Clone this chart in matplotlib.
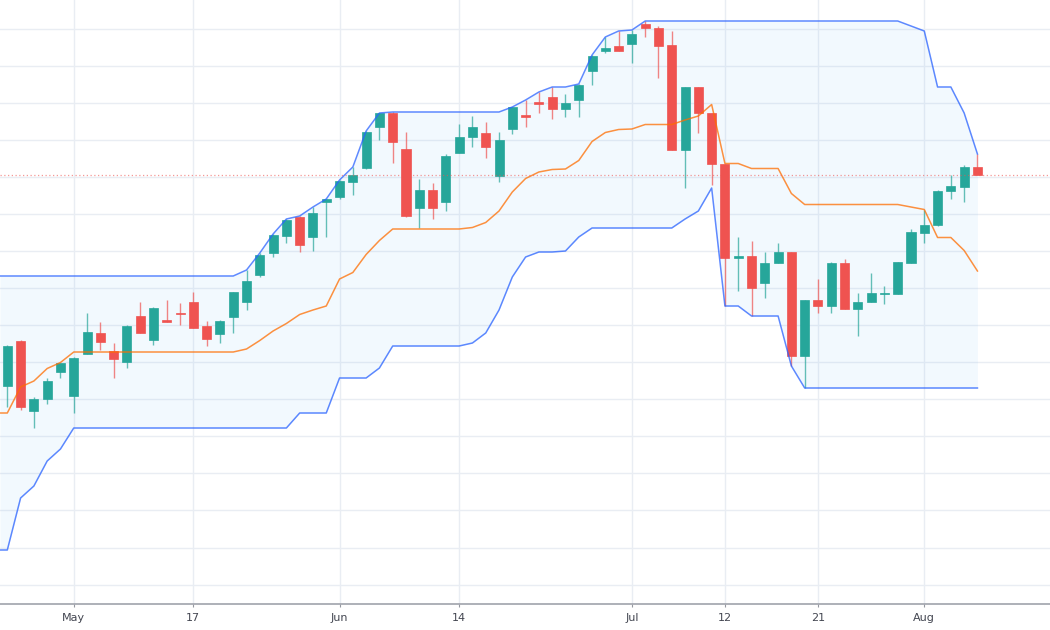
import numpy as np
import pandas as pd
import matplotlib
matplotlib.use("Agg")
import matplotlib.pyplot as plt

# daily OHLC, one entry per candle
opens = [121.4, 125.9, 118.9, 120.1, 122.8, 120.4, 124.6, 126.7, 124.9, 123.8,
         128.4, 126.0, 128.0, 128.7, 129.8, 127.4, 126.6, 128.3, 129.8, 132.5,
         134.7, 136.4, 138.3, 136.3, 139.8, 140.3, 141.8, 143.2, 147.3, 148.7,
         145.1, 139.2, 141.0, 139.8, 144.7, 146.3, 146.7, 142.4, 147.1, 148.5,
         149.8, 150.3, 149.1, 150.0, 152.9, 154.9, 155.4, 155.6, 157.6, 157.2,
         155.5, 145.0, 151.3, 148.7, 143.6, 134.2, 134.4, 131.7, 133.7, 134.8,
         124.4, 130.0, 129.4, 133.7, 129.1, 129.8, 130.6, 130.6, 133.7, 136.7,
         137.5, 140.9, 141.3, 143.3]
highs = [125.5, 126.0, 120.3, 122.2, 123.7, 124.3, 128.7, 127.8, 125.7, 127.5,
         129.8, 129.3, 130.0, 129.7, 130.8, 127.9, 128.0, 130.8, 133.0, 134.7,
         136.6, 138.1, 138.4, 139.3, 140.1, 142.0, 143.3, 146.9, 148.7, 148.8,
         146.8, 142.1, 141.7, 144.6, 147.6, 148.4, 147.8, 146.8, 149.3, 150.0,
         150.8, 151.3, 150.6, 151.6, 154.5, 156.3, 156.9, 157.0, 157.9, 157.4,
         156.9, 151.3, 151.3, 148.7, 143.6, 136.3, 135.9, 134.8, 135.7, 134.8,
         130.0, 132.1, 133.8, 134.1, 130.7, 132.7, 131.4, 133.8, 137.1, 139.0,
         141.0, 142.5, 143.5, 144.6]
lows = [119.3, 119.0, 117.2, 119.6, 122.2, 118.7, 124.6, 125.0, 122.2, 123.2,
        126.7, 125.5, 127.8, 127.5, 127.2, 125.4, 125.7, 126.7, 129.0, 132.3,
        134.3, 135.7, 134.8, 134.9, 136.3, 140.1, 140.5, 143.1, 146.0, 143.7,
        138.3, 137.2, 138.1, 138.9, 144.7, 145.3, 144.2, 141.8, 146.6, 147.3,
        148.7, 148.1, 148.3, 148.3, 151.5, 154.7, 154.9, 153.7, 156.3, 152.2,
        145.0, 141.2, 146.7, 141.5, 129.4, 130.9, 128.4, 130.2, 133.7, 123.4,
        121.2, 128.7, 128.7, 129.1, 126.4, 129.8, 129.6, 130.6, 133.7, 135.7,
        137.4, 140.1, 139.8, 142.5]
closes = [125.4, 119.3, 120.1, 121.9, 123.7, 124.2, 126.8, 125.8, 124.1, 127.4,
          126.7, 129.2, 127.8, 128.6, 127.2, 126.1, 127.9, 130.8, 131.9, 134.5,
          136.5, 138.0, 135.5, 138.7, 140.1, 141.9, 142.5, 146.8, 148.7, 145.8,
          138.4, 141.0, 139.2, 144.4, 146.3, 147.3, 145.3, 146.0, 149.3, 148.3,
          149.6, 149.1, 149.7, 151.5, 154.4, 155.2, 154.9, 156.6, 157.2, 155.4,
          145.0, 151.3, 148.7, 143.6, 134.2, 134.4, 131.2, 133.7, 134.8, 124.4,
          130.0, 129.4, 133.7, 129.1, 129.8, 130.7, 130.7, 133.8, 136.8, 137.5,
          140.9, 141.4, 143.3, 142.5]

# channel values for the first candles (their window starts before the visible data)
upper_start = [132.4, 132.4, 132.4, 132.4, 132.4, 132.4, 132.4, 132.4, 132.4, 132.4,
               132.4, 132.4, 132.4, 132.4, 132.4, 132.4, 132.4, 132.4, 133.0]
lower_start = [105.0, 110.2, 111.4, 113.9, 115.1, 117.2, 117.2, 117.2, 117.2, 117.2,
               117.2, 117.2, 117.2, 117.2, 117.2, 117.2, 117.2, 117.2, 117.2]
length = 20

tick_idx = [5, 14, 25, 34, 47, 54, 61, 69]
tick_labels = ["May", "17", "Jun", "14", "Jul", "12", "21", "Aug"]

o = np.array(opens); h = np.array(highs); l = np.array(lows); c = np.array(closes)
x = np.arange(len(o))

upper = pd.Series(h).rolling(length).max().to_numpy()
lower = pd.Series(l).rolling(length).min().to_numpy()
upper[:len(upper_start)] = upper_start
lower[:len(lower_start)] = lower_start
basis = (upper + lower) / 2

fig = plt.figure(figsize=(10.5, 6.3), dpi=100)
ax = fig.add_axes([0, 26 / 630, 1, 604 / 630])
xmin, xmax = -0.55, 78.46

# extend the lines to the left edge
xe = np.r_[xmin, x]
ue = np.r_[upper[0], upper]
le = np.r_[lower[0], lower]
be = np.r_[basis[0], basis]

ax.fill_between(xe, le, ue, color="#2196f3", alpha=0.055, lw=0, zorder=1)
ax.plot(xe, ue, color="#2962ff", lw=1.1, alpha=0.75, zorder=5)
ax.plot(xe, le, color="#2962ff", lw=1.1, alpha=0.75, zorder=5)
ax.plot(xe, be, color="#ff6d00", lw=1.1, alpha=0.75, zorder=5)

green, red = "#26a69a", "#ef5350"
cols = np.where(c >= o, green, red)
ax.vlines(x, l, h, colors=cols, lw=1, alpha=0.7, zorder=3)
bottom = np.minimum(o, c)
height = np.maximum(np.abs(c - o), 0.1)
ax.bar(x, height, 0.68, bottom=bottom, color=cols, edgecolor=cols, lw=0.5, zorder=4)

ax.axhline(c[-1], color=red, lw=0.9, ls=(0, (1, 2)), alpha=0.6, zorder=6)

ax.set_xlim(xmin, xmax)
ax.set_ylim(99.6, 160)
ax.set_yticks(np.arange(101.54, 160, 3.707))
ax.tick_params(axis="y", length=0, labelleft=False)
ax.set_xticks(tick_idx)
ax.set_xticklabels(tick_labels)
ax.tick_params(axis="x", length=2.5, width=0.8, color="#9598a1", pad=4,
               labelsize=8, labelcolor="#434651")
ax.grid(True, color="#e9edf3", lw=1, zorder=0)
ax.set_axisbelow(True)
for s in ["top", "left", "right"]:
    ax.spines[s].set_visible(False)
ax.spines["bottom"].set_color("#a0a3ab")
ax.spines["bottom"].set_linewidth(1.2)

fig.savefig("out.png", dpi=100)
